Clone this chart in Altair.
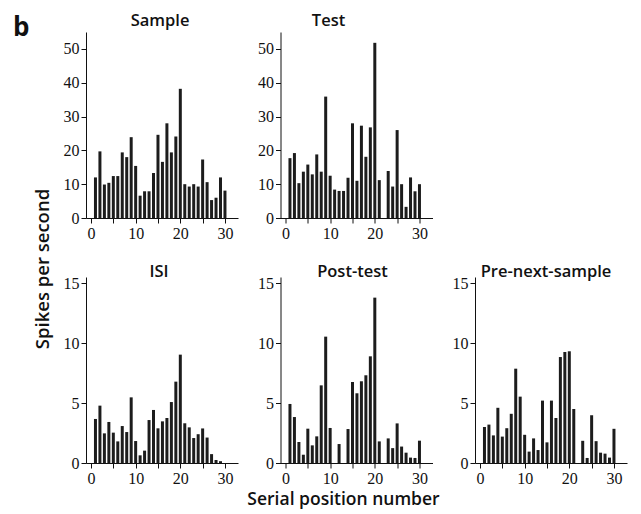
import altair as alt
import pandas as pd

positions = list(range(1, 31))

sample = [12.0, 19.7, 9.9, 10.4, 12.4, 12.4, 19.4, 18.0, 23.9, 15.4,
          6.6, 7.9, 7.9, 13.3, 24.6, 16.6, 28.0, 19.4, 24.1, 38.2,
          10.0, 9.3, 10.0, 9.3, 17.3, 10.6, 5.3, 6.0, 12.0, 8.1]
test = [17.7, 19.2, 10.3, 13.7, 15.8, 12.9, 18.8, 13.7, 35.9, 12.5,
        8.4, 8.0, 8.0, 11.9, 28.0, 11.0, 27.3, 18.1, 26.8, 51.8,
        11.2, None, 13.9, 9.3, 26.0, 10.0, 3.3, 12.0, 7.9, 10.0]
isi = [3.67, 4.78, 2.47, 3.42, 2.53, 1.8, 3.08, 2.58, 5.47, 1.83,
       0.64, 1.03, 3.58, 4.42, 2.89, 3.47, 3.75, 5.08, 6.78, 9.03,
       3.31, 2.97, 2.08, 2.4, 2.88, 2.12, 0.74, 0.25, 0.15, None]
post_test = [4.92, 3.83, 1.75, 0.69, 2.86, 1.47, 2.22, 6.47, 10.53, 2.92,
             None, 1.58, None, 2.83, 6.75, 5.81, 6.81, 7.31, 8.89, 13.78,
             1.8, None, 2.05, 1.24, 3.3, 1.37, 0.86, 0.45, 0.42, 1.86]
pre_next = [3.0, 3.2, 2.3, 4.6, 2.2, 2.9, 4.1, 7.86, 5.53, 2.35,
            0.95, 2.05, 1.08, 5.2, 1.72, 5.2, 3.75, 8.83, 9.25, 9.31,
            4.5, None, 1.85, 0.42, 3.98, 1.82, 0.86, 0.78, 0.45, 2.85]

x_ticks = [0, 5, 10, 15, 20, 25, 30]
top_yticks = [0, 10, 20, 30, 40, 50]
bottom_yticks = [0, 5, 10, 15]

W, H = 152, 186
SANS = "Open Sans"
SERIF = "'Liberation Serif', 'Times New Roman', 'DejaVu Serif', serif"


def label(text, x, y, size, angle=0, align="center", baseline="middle", weight=600):
    return alt.Chart(pd.DataFrame({"t": [text]})).mark_text(
        align=align, baseline=baseline, angle=angle, font=SANS,
        fontSize=size, fontWeight=weight, color="#111",
    ).encode(x=alt.value(x), y=alt.value(y), text="t:N")


def panel(title, title_x, title_y, values, ymax, yticks, extras=()):
    df = pd.DataFrame({"pos": positions, "rate": values}).dropna()
    bars = alt.Chart(df).mark_bar(size=3, color="#1c1c1c").encode(
        x=alt.X("pos:Q",
                scale=alt.Scale(domain=[0, 31.8], nice=False, zero=False),
                axis=alt.Axis(values=x_ticks, title=None,
                              labelFont=SERIF, labelFontSize=16,
                              labelExpr="datum.value % 10 === 0 ? datum.label : ''")),
        y=alt.Y("rate:Q",
                scale=alt.Scale(domain=[0, ymax], nice=False),
                axis=alt.Axis(values=yticks, title=None,
                              labelFont=SERIF, labelFontSize=16)),
    )
    head = label(title, title_x, title_y, 16.5, baseline="alphabetic")
    return alt.layer(bars, head, *extras).properties(width=W, height=H)


b_label = label("b", -73, 4, 26, align="left", baseline="alphabetic", weight=700)
y_title = label("Spikes per second", -43, -8, 18.5, angle=270)
x_title = label("Serial position number", 63, H + 37, 17.5)

p_sample = panel("Sample", 74, -6, sample, 55, top_yticks, [b_label])
p_test = panel("Test", 48, -6, test, 55, top_yticks)
empty = alt.Chart(pd.DataFrame({"pos": [0], "rate": [0]})).mark_point(opacity=0).encode(
    x=alt.X("pos:Q", axis=None), y=alt.Y("rate:Q", axis=None)
).properties(width=W, height=H)
p_isi = panel("ISI", 73, 0, isi, 15.5, bottom_yticks, [y_title])
p_post = panel("Post-test", 72, 0, post_test, 15.5, bottom_yticks, [x_title])
p_pre = panel("Pre-next-sample", 71, 0, pre_next, 15.5, bottom_yticks)

chart = alt.concat(
    p_sample, p_test, empty, p_isi, p_post, p_pre,
    columns=3,
    spacing=alt.RowColnumber(row=59, column=42.5),
    bounds="flush",
).configure_view(stroke=None).configure_axis(
    grid=False,
    domainColor="#111", tickColor="#111", domainWidth=1, tickWidth=1,
    labelFont=SERIF, labelFontSize=16, labelColor="#111",
    tickSize=5, labelPadding=2, labelFlush=False, labelOverlap=False,
).properties(background="white")

chart.save("out.html", embed_options={"renderer": "svg", "actions": False})
